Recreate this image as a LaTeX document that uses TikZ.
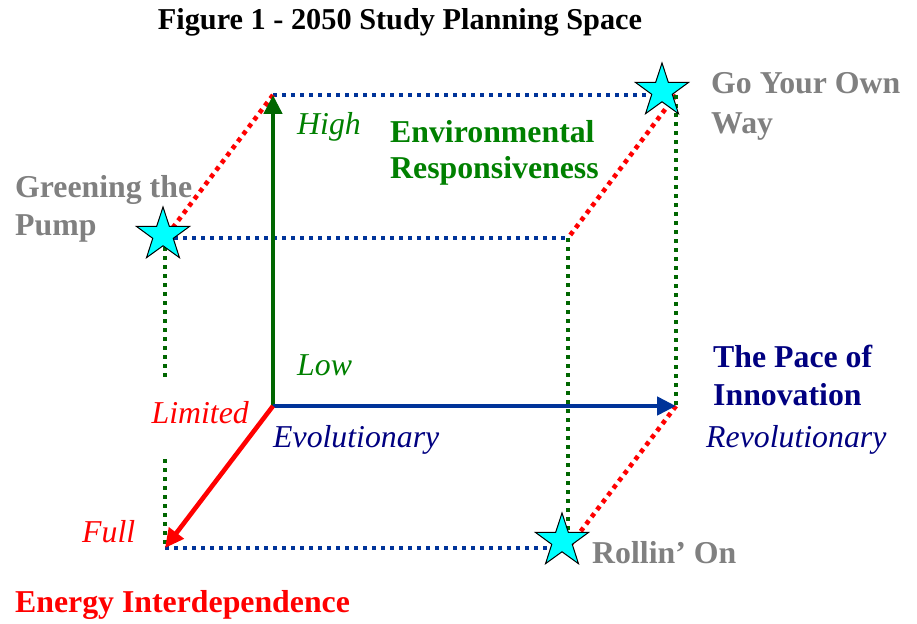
\documentclass[tikz,border=0pt]{standalone}
\usepackage{fontspec}
\setmainfont{Liberation Serif}
\usetikzlibrary{arrows.meta,shapes.geometric}
\definecolor{dgreen}{RGB}{0,102,0}
\definecolor{tgreen}{RGB}{0,128,0}
\definecolor{dblue}{RGB}{0,51,153}
\definecolor{navy}{RGB}{0,0,128}
\definecolor{lgray}{RGB}{128,128,128}
\definecolor{scyan}{RGB}{0,255,255}
\begin{document}
\begin{tikzpicture}[x=1pt,y=-1pt,
 lbl/.style={inner sep=0,anchor=base west,font=\fontsize{31.8}{38}\selectfont\bfseries},
 ilbl/.style={inner sep=0,anchor=base west,font=\fontsize{31.8}{38}\selectfont\itshape},
 dotline/.style={line width=4.6pt,dash pattern=on 4.4pt off 4.6pt},
 axisarrow/.style={line width=4.6pt,-{Triangle[length=19pt,width=18pt]}},
 starnode/.style={star,star points=5,star point ratio=2.6,minimum size=56pt,inner sep=0pt,fill=scyan,draw=black,line width=1pt}]
\useasboundingbox (0,0) rectangle (917,623);
% cube corners
\coordinate (O) at (273,406);
\coordinate (BT) at (273,95);
\coordinate (BTR) at (676,95);
\coordinate (BR) at (676,406);
\coordinate (F) at (165,548);
\coordinate (FT) at (165,238);
\coordinate (FTR) at (568,238);
\coordinate (FBR) at (568,548);
\coordinate (G1) at (165,380);
\coordinate (G2) at (165,459);
% dotted edges
\draw[dotline,dblue] (BT) -- (BTR);
\draw[dotline,dblue] (FT) -- (FTR);
\draw[dotline,dblue] (F) -- (FBR);
\draw[dotline,red] (BT) -- (FT);
\draw[dotline,red] (BTR) -- (FTR);
\draw[dotline,red] (BR) -- (FBR);
\draw[dotline,dgreen] (BTR) -- (BR);
\draw[dotline,dgreen] (FT) -- (G1);
\draw[dotline,dgreen] (G2) -- (F);
% axes
\draw[axisarrow,dgreen] (O) -- (BT);
\draw[axisarrow,dblue] (O) -- (BR);
\draw[axisarrow,red] (O) -- (F);
\draw[dotline,dgreen] (FTR) -- (FBR);
% stars
\node[starnode] (s1) at (163,235) {};
\node[starnode] (s2) at (662,91) {};
\node[starnode] (s3) at (562,541) {};
% texts
\node[inner sep=0,anchor=base,font=\fontsize{30.3}{36}\selectfont\bfseries] (title) at (400,30) {Figure 1 - 2050 Study Planning Space};
\node[ilbl,tgreen] (high) at (297,135) {High};
\node[lbl,tgreen] (env1) at (390,142) {Environmental};
\node[lbl,tgreen] (env2) at (390,178) {Responsiveness};
\node[lbl,lgray] (gp1) at (15,197) {Greening the};
\node[lbl,lgray] (gp2) at (15,235) {Pump};
\node[lbl,lgray] (go1) at (711,94) {Go Your Own};
\node[lbl,lgray] (go2) at (711,133) {Way};
\node[ilbl,tgreen] (low) at (297,375) {Low};
\node[lbl,navy] (pace1) at (713,367) {The Pace of};
\node[lbl,navy] (pace2) at (713,405) {Innovation};
\node[ilbl,red,anchor=base east] (lim) at (249,423) {Limited};
\node[ilbl,navy] (evo) at (273,447) {Evolutionary};
\node[ilbl,navy] (rev) at (706,447) {Revolutionary};
\node[ilbl,red] (full) at (82,542) {Full};
\node[lbl,lgray] (roll) at (592,563) {Rollin’ On};
\node[lbl,red] (energy) at (15,612) {Energy Interdependence};
\end{tikzpicture}
\end{document}
